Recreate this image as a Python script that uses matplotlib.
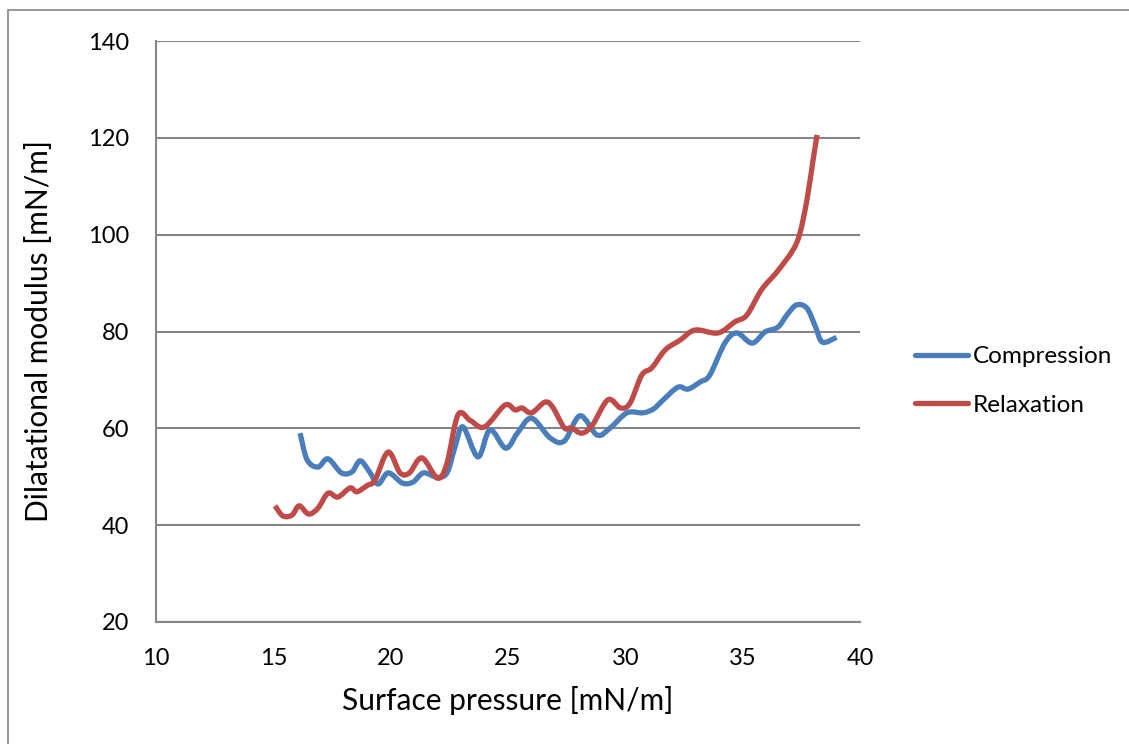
import matplotlib
matplotlib.use("Agg")
import matplotlib.pyplot as plt
from matplotlib.patches import Rectangle, PathPatch
from matplotlib.path import Path
from matplotlib.lines import Line2D

comp_x = [16.14, 16.44, 16.9, 17.33, 17.9, 18.35, 18.7, 19.1, 19.46, 19.9, 20.5, 20.95, 21.4,
          21.97, 22.4, 22.74, 23.08, 23.72, 24.23, 24.9, 25.4, 26.0, 26.8, 27.4, 28.07, 28.8,
          29.36, 30.07, 30.75, 31.2, 31.6, 32.24, 32.67, 33.2, 33.6, 34.24, 34.75, 35.4, 35.95,
          36.5, 36.9, 37.3, 37.74, 38.1, 38.4, 39.0]
comp_y = [59.0, 53.5, 52.0, 53.7, 50.8, 51.0, 53.3, 51.0, 48.5, 50.8, 48.7, 48.9, 50.8,
          49.9, 50.8, 56.1, 60.3, 54.1, 59.7, 55.9, 59.0, 62.1, 58.0, 57.4, 62.6, 58.6,
          60.1, 63.2, 63.2, 64.0, 65.8, 68.5, 68.1, 69.6, 71.0, 77.6, 79.7, 77.6, 79.9,
          80.9, 83.5, 85.5, 84.8, 81.0, 77.8, 78.8]

relax_x = [15.07, 15.41, 15.8, 16.1, 16.5, 16.9, 17.33, 17.75, 18.27, 18.56, 19.0, 19.33,
           19.89, 20.4, 20.8, 21.33, 22.0, 22.4, 22.87, 23.4, 24.0, 24.87, 25.3, 25.6, 26.0,
           26.57, 26.9, 27.4, 27.7, 28.15, 28.6, 29.26, 29.8, 30.2, 30.7, 31.13, 31.7, 32.33,
           32.97, 33.95, 34.67, 35.18, 35.8, 36.46, 37.14, 37.44, 37.74, 38.0, 38.17]
relax_y = [44.0, 41.9, 42.1, 44.0, 42.3, 43.5, 46.6, 45.8, 47.7, 46.9, 48.2, 49.3,
           55.1, 50.8, 50.8, 53.9, 49.7, 52.8, 62.8, 61.6, 60.3, 64.8, 63.8, 64.2, 63.2,
           65.4, 64.4, 60.1, 60.1, 59.0, 60.7, 65.9, 64.2, 65.2, 71.0, 72.5, 76.2, 78.2,
           80.3, 79.7, 82.0, 83.4, 88.6, 92.3, 96.8, 100.3, 107.2, 115.4, 120.6]

series_names = ["Compression", "Relaxation"]
colors = ["#4A7EBB", "#BE4B48"]
x_ticks = [10, 15, 20, 25, 30, 35, 40]
y_ticks = [20, 40, 60, 80, 100, 120, 140]

plt.rcParams['font.family'] = ['Lato', 'DejaVu Sans']


def smooth_path(xs, ys):
    """Excel-style smoothed line: cubic Bezier segments through the data points."""
    pts = list(zip(xs, ys))
    n = len(pts)
    verts = [pts[0]]
    codes = [Path.MOVETO]
    for i in range(n - 1):
        p0 = pts[i - 1] if i > 0 else pts[i]
        p1 = pts[i]
        p2 = pts[i + 1]
        p3 = pts[i + 2] if i + 2 < n else pts[i + 1]
        c1 = (p1[0] + (p2[0] - p0[0]) / 6, p1[1] + (p2[1] - p0[1]) / 6)
        c2 = (p2[0] - (p3[0] - p1[0]) / 6, p2[1] - (p3[1] - p1[1]) / 6)
        verts += [c1, c2, p2]
        codes += [Path.CURVE4] * 3
    return Path(verts, codes)


fig = plt.figure(figsize=(11.29, 7.44), dpi=100)
ax = fig.add_axes([156/1129, 1 - 622/744, (860-156)/1129, (622-41)/744])

lw = 3.8
for xs, ys, c in [(comp_x, comp_y, colors[0]), (relax_x, relax_y, colors[1])]:
    ax.add_patch(PathPatch(smooth_path(xs, ys), facecolor='none', edgecolor=c, lw=lw,
                           joinstyle='round', capstyle='butt', transform=ax.transData, zorder=3))

ax.set_xlim(10, 40)
ax.set_ylim(20, 140)
ax.set_xticks(x_ticks)
ax.set_yticks(y_ticks)
ax.tick_params(length=0, labelsize=17, pad=19)
ax.grid(axis='y', color='#868686', lw=1.5)
ax.set_axisbelow(True)
for s in ['top', 'right']:
    ax.spines[s].set_visible(False)
for s in ['left', 'bottom']:
    ax.spines[s].set_color('#868686')
    ax.spines[s].set_linewidth(1.5)

ax.set_xlabel("Surface pressure [mN/m]", fontsize=21.5, labelpad=12)
ax.set_ylabel("Dilatational modulus [mN/m]", fontsize=21.5)
ax.yaxis.set_label_coords(-0.146, 0.5)

handles = [Line2D([], [], color=c, lw=lw, solid_capstyle='round') for c in colors]
leg = ax.legend(handles, series_names, loc='center left', bbox_to_anchor=(1.078, 0.4148),
                frameon=False, fontsize=17.5, handlelength=2.2, handletextpad=0.2,
                labelspacing=1.14, borderaxespad=0, borderpad=0)

fig.add_artist(Rectangle((8/1129, -0.01), 1.02, 1 - 10/744 + 0.01, transform=fig.transFigure,
                         fill=False, edgecolor='#868686', lw=1.2))

fig.savefig("out.png", dpi=100)
